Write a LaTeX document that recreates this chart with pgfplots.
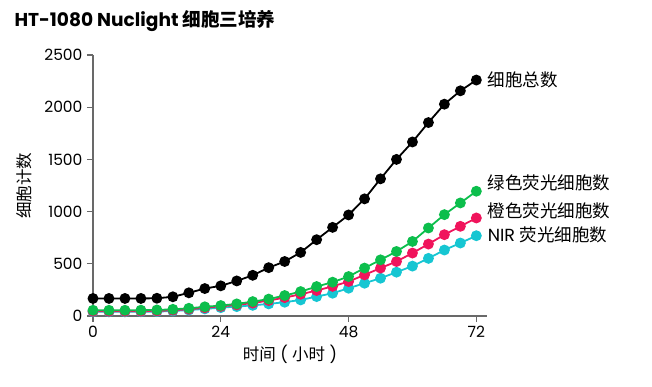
\documentclass[border=0pt]{standalone}
\usepackage{pgfplots}
\pgfplotsset{compat=1.18}
\usepackage{fontspec}
\setmainfont{Poppins}
\newfontfamily\cjk{Noto Sans CJK SC}
\definecolor{cgreen}{RGB}{12,190,76}
\definecolor{cred}{RGB}{240,20,92}
\definecolor{ccyan}{RGB}{22,198,210}
\definecolor{caxis}{RGB}{105,105,105}
\begin{document}
\begin{tikzpicture}[x=1pt,y=1pt]
\useasboundingbox (0,0) rectangle (652,386);
\node[anchor=west,font=\fontsize{18.6}{22}\selectfont\bfseries] at (11,365) {HT-1080 Nuclight {\cjk\bfseries 细胞三培养}};
\begin{axis}[
  at={(93pt,70pt)}, anchor=south west,
  scale only axis, width=394pt, height=261pt,
  xmin=0, xmax=74, ymin=0, ymax=2500,
  axis lines*=left,
  axis line style={caxis, line width=1.3pt},
  every tick/.style={caxis, line width=1.2pt},
  tick align=outside, major tick length=6pt,
  xtick={0,24,48,72}, ytick={0,500,1000,1500,2000,2500},
  /pgf/number format/assume math mode=true,
  /pgf/number format/1000 sep={},
  tick label style={font=\fontsize{15.5}{18}\selectfont},
  xticklabel style={yshift=-1pt},
  yticklabel style={xshift=-1pt},
  xlabel={{\cjk 时间} ( {\cjk 小时} )},
  ylabel={\cjk 细胞计数},
  xlabel style={font=\fontsize{16.5}{19}\selectfont, yshift=0pt},
  ylabel style={font=\fontsize{16.5}{19}\selectfont, yshift=6pt},
  clip=false,
  every axis plot/.append style={line width=1.8pt, mark=*, mark size=4.5pt},
]
\addplot[ccyan, mark options={fill=ccyan}] coordinates {
(0,40)(3,40)(6,40)(9,41)(12,42)(15,48)(18,57)(21,68)(24,80)(27,90)(30,102)(33,116)(36,132)(39,154)(42,186)(45,218)(48,266)(51,314)(54,362)(57,420)(60,478)(63,552)(66,632)(69,699)(72,769)};
\addplot[cred, mark options={fill=cred}] coordinates {
(0,45)(3,45)(6,45)(9,46)(12,48)(15,55)(18,65)(21,78)(24,92)(27,106)(30,124)(33,148)(36,176)(39,208)(42,244)(45,284)(48,330)(51,394)(54,459)(57,522)(60,603)(63,689)(66,779)(69,859)(72,939)};
\addplot[cgreen, mark options={fill=cgreen}] coordinates {
(0,55)(3,55)(6,55)(9,56)(12,58)(15,64)(18,74)(21,88)(24,100)(27,116)(30,138)(33,162)(36,196)(39,234)(42,282)(45,324)(48,378)(51,459)(54,538)(57,618)(60,714)(63,843)(66,971)(69,1083)(72,1195)};
\addplot[black, mark options={fill=black}] coordinates {
(0,168)(3,168)(6,168)(9,168)(12,170)(15,184)(18,222)(21,263)(24,289)(27,336)(30,390)(33,463)(36,522)(39,609)(42,731)(45,849)(48,968)(51,1122)(54,1314)(57,1500)(60,1667)(63,1853)(66,2029)(69,2157)(72,2260)};
\node[anchor=west, font=\cjk\fontsize{17.5}{20}\selectfont] at (axis cs:73.5,2260) {细胞总数};
\node[anchor=west, font=\cjk\fontsize{17.5}{20}\selectfont] at (axis cs:73.5,1274) {绿色荧光细胞数};
\node[anchor=west, font=\cjk\fontsize{17.5}{20}\selectfont] at (axis cs:73.5,1006) {橙色荧光细胞数};
\node[anchor=west, font=\fontsize{17.5}{20}\selectfont] at (axis cs:73.5,776) {NIR {\cjk 荧光细胞数}};
\end{axis}
\end{tikzpicture}
\end{document}
